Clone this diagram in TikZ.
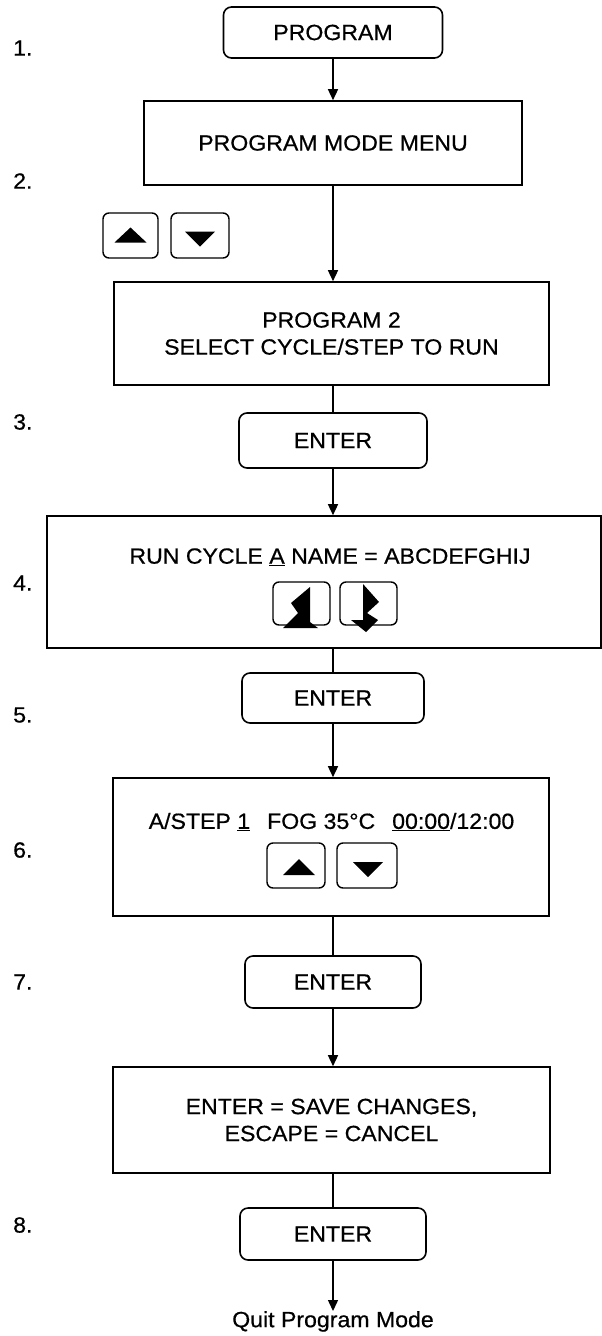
\documentclass[tikz,border=0pt]{standalone}
\usepackage{fontspec}
\setmainfont{Liberation Sans}[FakeStretch=1.05,FakeBold=0.6]
\usetikzlibrary{arrows.meta}
\newcommand{\mainfs}{\fontsize{22}{27}\selectfont}
\begin{document}
\begin{tikzpicture}[x=1pt,y=-1pt,
  box/.style={draw, line width=1.6pt, inner sep=0pt, align=center, font=\mainfs},
  rbox/.style={box, rounded corners=8pt},
  keybtn/.style={draw, line width=1.4pt, rounded corners=6pt, inner sep=0pt},
  conn/.style={line width=1.4pt},
  arr/.style={conn, -{Triangle[length=11pt,width=10pt]}},
  lbl/.style={font=\mainfs, inner sep=0pt}]
\useasboundingbox (0,0) rectangle (602,1336);
\fill[white] (0,0) rectangle (602,1336);

% step labels
\node[lbl, anchor=west] (n1) at (13,48) {1.};
\node[lbl, anchor=west] (n2) at (13,181) {2.};
\node[lbl, anchor=west] (n3) at (13,422) {3.};
\node[lbl, anchor=west] (n4) at (13,583) {4.};
\node[lbl, anchor=west] (n5) at (13,715) {5.};
\node[lbl, anchor=west] (n6) at (13,850) {6.};
\node[lbl, anchor=west] (n7) at (13,982) {7.};
\node[lbl, anchor=west] (n8) at (13,1225) {8.};

% boxes
\node[rbox, minimum width=219pt, minimum height=51pt] (prog) at (333,32.5) {PROGRAM};
\node[box, minimum width=378pt, minimum height=84pt] (menu) at (333,143) {PROGRAM MODE MENU};
\node[keybtn, minimum width=55pt, minimum height=45pt] (up2) at (130.5,235.5) {};
\node[keybtn, minimum width=58pt, minimum height=45pt] (dn2) at (200,235.5) {};
\fill ([shift={(0,-8)}]up2.center) -- ([shift={(-16,7)}]up2.center) -- ([shift={(16,7)}]up2.center) -- cycle;
\fill ([shift={(-15,-4)}]dn2.center) -- ([shift={(15,-4)}]dn2.center) -- ([shift={(0,11)}]dn2.center) -- cycle;

\node[box, minimum width=435pt, minimum height=103pt] (prog2) at (331.5,333.5) {PROGRAM 2\\SELECT CYCLE/STEP TO RUN};
\node[rbox, minimum width=188pt, minimum height=55pt] (ent1) at (333,440.5) {ENTER};

\node[box, minimum width=554pt, minimum height=132pt] (run) at (324,582) {};
\node[lbl] (runt) at (330,557) {RUN CYCLE \underline{A} NAME = ABCDEFGHIJ};
\node[keybtn, minimum width=57pt, minimum height=43pt] (lt4) at (301.5,603.5) {};
\node[keybtn, minimum width=57pt, minimum height=43pt] (rt4) at (368.5,603.5) {};
\fill (310,587) -- (291,603) -- (298,613) -- (283,628) -- (318,628) -- (310,622) -- cycle;
\fill (363,584) -- (379,602) -- (367,613) -- (378,620) -- (366,632) -- (351,620) -- (363,620) -- cycle;

\node[rbox, minimum width=182pt, minimum height=50pt] (ent2) at (333,698) {ENTER};

\node[box, minimum width=436pt, minimum height=138pt] (step) at (331,847) {};
\node[lbl] (stept) at (331.5,822) {A/STEP \underline{1}\hspace{17pt}FOG 35°C\hspace{17pt}\underline{00:00}/12:00};
\node[keybtn, minimum width=58pt, minimum height=45pt] (up6) at (296,865.5) {};
\node[keybtn, minimum width=60pt, minimum height=45pt] (dn6) at (367,865.5) {};
\fill ([shift={(3,-6.5)}]up6.center) -- ([shift={(-13,9.5)}]up6.center) -- ([shift={(19,9.5)}]up6.center) -- cycle;
\fill ([shift={(-14,-3.5)}]dn6.center) -- ([shift={(16,-3.5)}]dn6.center) -- ([shift={(1,11.5)}]dn6.center) -- cycle;

\node[rbox, minimum width=176pt, minimum height=52pt] (ent3) at (333,982) {ENTER};
\node[box, minimum width=437pt, minimum height=106pt] (save) at (331.5,1120) {ENTER = SAVE CHANGES,\\ESCAPE = CANCEL};
\node[rbox, minimum width=186pt, minimum height=52pt] (ent4) at (333,1234) {ENTER};
\node[lbl, anchor=north] (quit) at (333,1311) {Quit Program Mode};

% connectors
\draw[arr] (prog.south) -- (menu.north);
\draw[arr] (menu.south) -- (menu.south |- prog2.north);
\draw[conn] (ent1.north |- prog2.south) -- (ent1.north);
\draw[arr] (ent1.south) -- (ent1.south |- run.north);
\draw[conn] (ent2.north |- run.south) -- (ent2.north);
\draw[arr] (ent2.south) -- (ent2.south |- step.north);
\draw[conn] (ent3.north |- step.south) -- (ent3.north);
\draw[arr] (ent3.south) -- (ent3.south |- save.north);
\draw[conn] (ent4.north |- save.south) -- (ent4.north);
\draw[arr] (ent4.south) -- (quit.north);
\end{tikzpicture}
\end{document}
